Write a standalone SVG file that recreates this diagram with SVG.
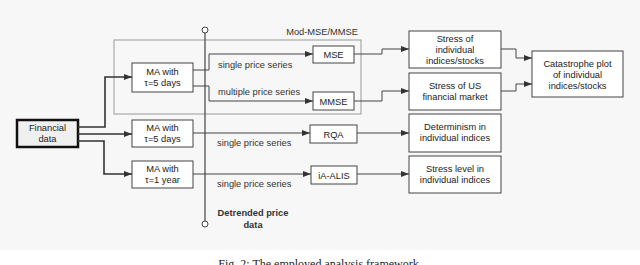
<svg xmlns="http://www.w3.org/2000/svg" width="640" height="265" viewBox="0 0 640 265">
<defs>
<marker id="ah" markerWidth="8" markerHeight="6" refX="8" refY="3" orient="auto" markerUnits="userSpaceOnUse">
<path d="M0,0 L8,3 L0,6 Z" fill="#333"/>
</marker>
<style>
.box{fill:#fff;stroke:#444;stroke-width:1}
.t{font-family:"Liberation Sans",Arial,sans-serif;font-size:9.3px;fill:#222;text-anchor:middle}
.lbl{font-family:"Liberation Sans",Arial,sans-serif;font-size:9.3px;fill:#333}
.ln{fill:none;stroke:#444;stroke-width:1}
.thick{fill:none;stroke:#333;stroke-width:1.6}
</style>
</defs>
<rect x="0" y="0" width="640" height="250" fill="#f7f7f7"/>
<text x="320" y="268" font-family="'Liberation Serif','Times New Roman',serif" font-size="12" fill="#222" text-anchor="middle">Fig. 2: The employed analysis framework.</text>

<g id="modmse">
<rect x="114" y="40" width="247" height="74" fill="none" stroke="#999" stroke-width="1"/>
<text x="358" y="35" class="lbl" text-anchor="end">Mod-MSE/MMSE</text>
</g>

<g id="detrended">
<line x1="205" y1="33" x2="205" y2="221" stroke="#444" stroke-width="1.2"/>
<circle cx="205" cy="30" r="3" fill="#fff" stroke="#444" stroke-width="1"/>
<circle cx="205" cy="224" r="3" fill="#fff" stroke="#444" stroke-width="1"/>
<text x="253" y="216" class="lbl" font-weight="bold" fill="#555" text-anchor="middle">Detrended price</text>
<text x="253" y="228" class="lbl" font-weight="bold" fill="#555" text-anchor="middle">data</text>
</g>

<g id="financial">
<rect x="17" y="120" width="61" height="27" fill="#f0f0f0" stroke="#111" stroke-width="2.5"/>
<text x="47.5" y="131" class="t">Financial</text>
<text x="47.5" y="142" class="t">data</text>
</g>

<g id="ma1">
<rect class="box" x="132" y="63" width="61" height="29"/>
<text x="162.5" y="75" class="t">MA with</text>
<text x="162.5" y="86" class="t">τ=5 days</text>
</g>
<g id="ma2">
<rect class="box" x="132" y="120" width="61" height="27"/>
<text x="162.5" y="131" class="t">MA with</text>
<text x="162.5" y="142" class="t">τ=5 days</text>
</g>
<g id="ma3">
<rect class="box" x="132" y="161" width="61" height="27"/>
<text x="162.5" y="172" class="t">MA with</text>
<text x="162.5" y="183" class="t">τ=1 year</text>
</g>

<g id="mse">
<rect class="box" x="313" y="46" width="41" height="17"/>
<text x="333.5" y="58" class="t">MSE</text>
</g>
<g id="mmse">
<rect class="box" x="313" y="92" width="41" height="18"/>
<text x="333.5" y="104.5" class="t">MMSE</text>
</g>
<g id="rqa">
<rect class="box" x="310" y="125" width="47" height="18"/>
<text x="333.5" y="137.5" class="t">RQA</text>
</g>
<g id="ialis">
<rect class="box" x="311" y="166" width="46" height="18"/>
<text x="334" y="178.5" class="t">iA-ALIS</text>
</g>

<g id="stress1">
<rect class="box" x="409" y="31" width="92" height="37"/>
<text x="455" y="42" class="t">Stress of</text>
<text x="455" y="53" class="t">individual</text>
<text x="455" y="64" class="t">indices/stocks</text>
</g>
<g id="stress2">
<rect class="box" x="409" y="73" width="92" height="37"/>
<text x="455" y="89" class="t">Stress of US</text>
<text x="455" y="100" class="t">financial market</text>
</g>
<g id="determinism">
<rect class="box" x="409" y="114" width="92" height="38"/>
<text x="455" y="130" class="t">Determinism in</text>
<text x="455" y="141" class="t">individual indices</text>
</g>
<g id="stresslevel">
<rect class="box" x="409" y="156" width="92" height="37"/>
<text x="455" y="172" class="t">Stress level in</text>
<text x="455" y="183" class="t">individual indices</text>
</g>
<g id="catastrophe">
<rect class="box" x="532" y="51" width="91" height="46"/>
<text x="577.5" y="67" class="t">Catastrophe plot</text>
<text x="577.5" y="78" class="t">of individual</text>
<text x="577.5" y="89" class="t">indices/stocks</text>
</g>

<g id="connectors">
<polyline class="thick" points="78,127 105,127 105,77 132,77" marker-end="url(#ah)"/>
<polyline class="thick" points="78,134 132,134" marker-end="url(#ah)"/>
<polyline class="thick" points="78,141 104,141 104,174 132,174" marker-end="url(#ah)"/>
<polyline class="ln" points="193,70 209,70 209,54 313,54" marker-end="url(#ah)"/>
<polyline class="ln" points="193,86 209,86 209,101 313,101" marker-end="url(#ah)"/>
<polyline class="ln" points="193,133 310,133" marker-end="url(#ah)"/>
<polyline class="ln" points="193,174 311,174" marker-end="url(#ah)"/>
<polyline class="ln" points="354,54 382,54 382,49 409,49" marker-end="url(#ah)"/>
<polyline class="ln" points="354,101 382,101 382,91 409,91" marker-end="url(#ah)"/>
<polyline class="ln" points="357,133 409,133" marker-end="url(#ah)"/>
<polyline class="ln" points="357,174 409,174" marker-end="url(#ah)"/>
<polyline class="ln" points="501,49 516,49 516,58 532,58" marker-end="url(#ah)"/>
<polyline class="ln" points="501,91 516,91 516,84 532,84" marker-end="url(#ah)"/>
<text x="218" y="68" class="lbl">single price series</text>
<text x="218" y="95" class="lbl">multiple price series</text>
<text x="217" y="146" class="lbl">single price series</text>
<text x="217" y="187" class="lbl">single price series</text>
</g>
</svg>
